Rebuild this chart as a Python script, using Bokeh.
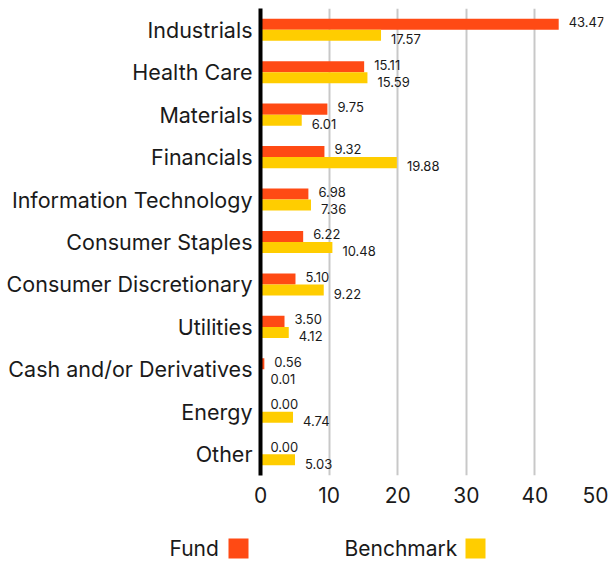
from bokeh.plotting import figure
from bokeh.models import ColumnDataSource, FactorRange, Range1d, FixedTicker
from bokeh.transform import dodge
from bokeh.core.properties import value
from bokeh.embed import file_html
from bokeh.resources import INLINE

categories = ["Industrials", "Health Care", "Materials", "Financials",
              "Information Technology", "Consumer Staples", "Consumer Discretionary",
              "Utilities", "Cash and/or Derivatives", "Energy", "Other"]
fund = [43.47, 15.11, 9.75, 9.32, 6.98, 6.22, 5.10, 3.50, 0.56, 0.00, 0.00]
benchmark = [17.57, 15.59, 6.01, 19.88, 7.36, 10.48, 9.22, 4.12, 0.01, 4.74, 5.03]
series_names = ["Fund", "Benchmark"]
series_colors = ["#ff4a14", "#ffcd00"]
x_ticks = [0, 10, 20, 30, 40, 50]

FONT = "Inter"
TXT = "#1a1a1a"

src = ColumnDataSource(dict(
    cat=categories,
    fund=fund,
    bench=benchmark,
    fund_lbl=[f"{v:.2f}" for v in fund],
    bench_lbl=[f"{v:.2f}" for v in benchmark],
))

W = 608
p = figure(width=W, height=510, output_backend="svg", toolbar_location=None,
           y_range=FactorRange(factors=categories[::-1]),
           x_range=Range1d(0, 50),
           min_border_left=260, min_border_right=5, min_border_top=8, min_border_bottom=35)
p.outline_line_color = None
p.background_fill_color = "white"
p.border_fill_color = "white"

p.hbar(y=dodge("cat", 0.13, range=p.y_range), right="fund", left=0, height=0.26,
       source=src, color=series_colors[0], line_color=None)
p.hbar(y=dodge("cat", -0.13, range=p.y_range), right="bench", left=0, height=0.26,
       source=src, color=series_colors[1], line_color=None)

p.text(x="fund", y=dodge("cat", 0.18, range=p.y_range), text="fund_lbl", source=src,
       x_offset=10, text_baseline="middle", text_align="left",
       text_font=value(FONT), text_font_size="13px", text_color=TXT)
p.text(x="bench", y=dodge("cat", -0.22, range=p.y_range), text="bench_lbl", source=src,
       x_offset=10, text_baseline="middle", text_align="left",
       text_font=value(FONT), text_font_size="13px", text_color=TXT)

p.ygrid.grid_line_color = None
p.xgrid.grid_line_color = "#c8c8c8"
p.xgrid.grid_line_width = 2
p.xaxis.ticker = FixedTicker(ticks=x_ticks)
p.xaxis.axis_line_color = None
p.xaxis.major_tick_line_color = None
p.xaxis.minor_tick_line_color = None
p.xaxis.major_label_standoff = 5
p.xaxis.major_label_text_font = FONT
p.xaxis.major_label_text_font_size = "21px"
p.xaxis.major_label_text_color = TXT

p.yaxis.axis_line_color = "black"
p.yaxis.axis_line_width = 4
p.yaxis.major_tick_line_color = None
p.yaxis.minor_tick_line_color = None
p.yaxis.major_label_standoff = 2
p.yaxis.major_label_text_font = FONT
p.yaxis.major_label_text_font_size = "21.5px"
p.yaxis.major_label_text_color = TXT

# legend strip drawn as its own small figure: label text followed by its swatch
LH = 52
leg = figure(width=W, height=LH, output_backend="svg", toolbar_location=None,
             x_range=Range1d(0, W), y_range=Range1d(0, LH), min_border=0)
leg.axis.visible = False
leg.grid.visible = False
leg.outline_line_color = None
leg_src = ColumnDataSource(dict(
    name=series_names,
    color=series_colors,
    tx=[169, 344],
    sx=[238, 475],
    y=[14, 14],
))
leg.text(x="tx", y="y", text="name", source=leg_src, text_baseline="middle",
         text_align="left", text_font=value(FONT), text_font_size="21px", text_color=TXT)
leg.rect(x="sx", y="y", width=20, height=20, width_units="screen", height_units="screen",
         source=leg_src, color="color", line_color=None)

open("out.html", "w").write(file_html([p, leg], INLINE))
